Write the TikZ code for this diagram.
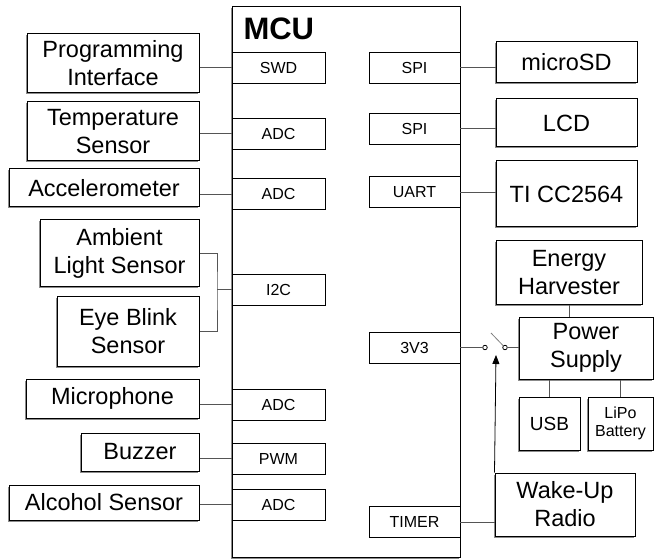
\documentclass[tikz,border=0pt]{standalone}
\usepackage{fontspec}
\setmainfont{Liberation Sans}
\usepackage{tikz}
\usetikzlibrary{positioning,arrows.meta,shadows}
\usepackage{xcolor}
\definecolor{wire}{HTML}{555555}
\definecolor{shade}{HTML}{6E6E6E}

\begin{document}
\begin{tikzpicture}[
  x=1pt, y=-1pt,
  box/.style={draw, line width=1pt, fill=white, align=center, inner sep=0pt,
    drop shadow={shadow xshift=-1.5pt, shadow yshift=-1.5pt, fill=shade, opacity=0.8},
    font=\fontsize{23.5}{28}\selectfont},
  port/.style={draw, line width=0.9pt, fill=white, inner sep=0pt, minimum height=31pt,
    font=\fontsize{16}{18}\selectfont},
  lport/.style={port, minimum width=93pt},
  rport/.style={port, minimum width=91pt},
  conn/.style={draw=wire, line width=0.8pt},
  arr/.style={conn, draw=black, -{Triangle[length=9pt,width=7pt]}},
  pin/.style={circle, draw=black, line width=0.8pt, fill=white, inner sep=0pt, minimum size=4.5pt}
]
\useasboundingbox (0,0) rectangle (654,559);

\node[box, minimum width=228pt, minimum height=550pt] (mcu) at (346,282) {};
\node[anchor=west, font=\fontsize{31}{32}\selectfont\bfseries] (mcutitle) at (240,29) {MCU};

\node[lport] (swd) at (278.5,67.5) {SWD};
\node[lport] (adca) at (278.5,133.5) {ADC};
\node[lport] (adcb) at (278.5,194) {ADC};
\node[lport] (itwoc) at (278.5,289.5) {I2C};
\node[lport] (adcc) at (278.5,404.5) {ADC};
\node[lport] (pwm) at (278.5,458.5) {PWM};
\node[lport] (adcd) at (278.5,504.5) {ADC};

\node[rport] (spia) at (414.5,67.5) {SPI};
\node[rport] (spib) at (414.5,128.5) {SPI};
\node[rport] (uart) at (414.5,192) {UART};
\node[rport] (vthree) at (414.5,347.5) {3V3};
\node[rport] (timer) at (414.5,522) {TIMER};

\node[box, minimum width=172pt, minimum height=59pt] (prog) at (113,63.5) {Programming\\Interface};
\node[box, minimum width=172pt, minimum height=59pt] (temp) at (113,131.5) {Temperature\\Sensor};
\node[box, minimum width=190pt, minimum height=38pt] (accel) at (104,188) {Accelerometer};
\node[box, minimum width=159pt, minimum height=66pt] (ambient) at (119.5,253) {Ambient\\Light Sensor};
\node[box, minimum width=142pt, minimum height=70pt] (eyeblink) at (128,331) {Eye Blink\\Sensor};
\node[box, minimum width=173pt, minimum height=39pt] (mic) at (112.5,398.5) {Microphone};
\node[box, minimum width=118pt, minimum height=38pt] (buzzer) at (140,452) {Buzzer};
\node[box, minimum width=190pt, minimum height=35pt] (alcohol) at (104,502.5) {Alcohol Sensor};

\node[box, minimum width=141pt, minimum height=41pt] (microsd) at (566.5,62.5) {microSD};
\node[box, minimum width=141pt, minimum height=48pt] (lcd) at (566.5,123) {LCD};
\node[box, minimum width=141pt, minimum height=66pt] (ticc) at (566.5,194) {TI CC2564};
\node[box, minimum width=146pt, minimum height=63pt] (harvester) at (569,272.5) {Energy\\Harvester};
\node[box, minimum width=134pt, minimum height=62pt] (power) at (586,348) {Power\\Supply};
\node[box, minimum width=61pt, minimum height=53pt, font=\fontsize{19}{20}\selectfont] (usb) at (549.5,423.5) {USB};
\node[box, minimum width=65pt, minimum height=53pt, font=\fontsize{16}{18}\selectfont] (lipo) at (620.5,423.5) {LiPo\\Battery};
\node[box, minimum width=140pt, minimum height=63pt] (wakeup) at (565,504.5) {Wake-Up\\Radio};

\coordinate (bus) at (217,289.5);
\coordinate (blade) at (491,333);
\coordinate (swtip) at (496,355);
\node[pin] (swa) at (485,347.5) {};
\node[pin] (swb) at (505,347.5) {};

\draw[conn] (swd.west -| prog.east) -- (swd.west);
\draw[conn] (adca.west -| temp.east) -- (adca.west);
\draw[conn] (adcb.west -| accel.east) -- (adcb.west);
\draw[conn] (ambient.east) -| (bus) |- (eyeblink.east);
\draw[conn] (bus) -- (itwoc.west);
\draw[conn] (adcc.west -| mic.east) -- (adcc.west);
\draw[conn] (pwm.west -| buzzer.east) -- (pwm.west);
\draw[conn] (adcd.west -| alcohol.east) -- (adcd.west);

\draw[conn] (spia.east) -- (spia.east -| microsd.west);
\draw[conn] (spib.east) -- (spib.east -| lcd.west);
\draw[conn] (uart.east) -- (uart.east -| ticc.west);
\draw[conn] (timer.east) -- (timer.east -| wakeup.west);

\draw[conn] (harvester.south) -- (harvester.south |- power.north);
\draw[conn] (usb.north) -- (usb.north |- power.south);
\draw[conn] (lipo.north) -- (lipo.north |- power.south);

\draw[conn] (vthree.east) -- (swa.west);
\draw[conn] (swb.east) -- (swb.east -| power.west);
\draw[conn, draw=gray] (blade) -- (swb.north west);
\draw[arr] (wakeup.north west) -- (swtip);
\end{tikzpicture}
\end{document}
